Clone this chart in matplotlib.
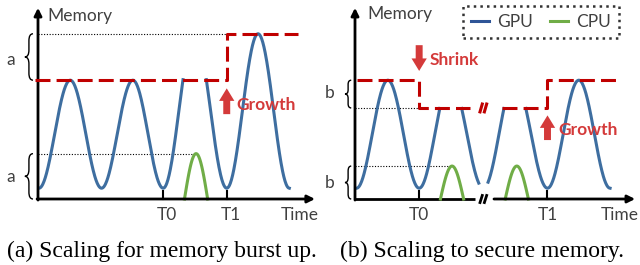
import numpy as np
import matplotlib
matplotlib.use("Agg")
import matplotlib.pyplot as plt
from matplotlib.path import Path
from matplotlib.patches import PathPatch
from matplotlib.lines import Line2D

# ---- data (time units: one half period = 1, memory units: peak ~1.1) ----
# (a) scaling for memory burst up
gpu_a_t = [0.03, 1.03, 2.03, 3.03, 4.0, 5.0, 6.03, 7.03, 8.03]
gpu_a_m = [0.1, 1.1, 0.1, 1.1, 0.1, 1.53, 0.1, 1.53, 0.1]
cpu_a_t = [5.05]
cpu_a_m = [0.42]
limit_a_t = [-0.1, 6.03, 8.3]      # limit changes at T1
limit_a_m = [1.1, 1.53]
ticks_a = [4.0, 6.03]
ticks_a_labels = ["T0", "T1"]

# (b) scaling to secure memory
gpu_b_t = [0.05, 1.05, 2.05, 3.05, 4.1, 5.1, 6.15, 7.15, 8.15]
gpu_b_m = [0.1, 1.1, 0.1, 1.1, 0.1, 1.1, 0.1, 1.1, 0.1]
cpu_b_t = [3.1, 5.17]
cpu_b_m = [0.305, 0.305]
limit_b_t = [0.05, 2.05, 6.15, 8.4]   # shrink at T0, growth at T1
limit_b_m = [1.1, 0.843, 1.1]
ticks_b = [2.05, 6.15]
ticks_b_labels = ["T0", "T1"]
break_b = 4.1

BLUE = "#3E6EA0"
GREEN = "#70AD47"
RED = "#C00000"
ARROW_RED = "#D43A3A"
GRAY = "#404040"
FONT = ["Lato", "DejaVu Sans"]
FS = 12.5

plt.rcParams["font.family"] = FONT


def wave(t_keys, m_keys, n=80):
    ts, ms = [], []
    for i in range(len(t_keys) - 1):
        s = np.linspace(0, 1, n)
        ts.append(t_keys[i] + s * (t_keys[i + 1] - t_keys[i]))
        ms.append(m_keys[i] + (m_keys[i + 1] - m_keys[i]) * (1 - np.cos(np.pi * s)) / 2)
    return np.concatenate(ts), np.concatenate(ms)


def limit_at(t, lt, lm):
    idx = np.clip(np.searchsorted(lt, t, side="right") - 1, 0, len(lm) - 1)
    return np.asarray(lm)[idx]


def step_xy(lt, lm):
    xs, ys = [lt[0]], [lm[0]]
    for i in range(1, len(lm)):
        xs += [lt[i], lt[i]]
        ys += [lm[i - 1], lm[i]]
    xs.append(lt[-1])
    ys.append(lm[-1])
    return np.array(xs), np.array(ys)


def brace(ax, x_tip, x_end, y0, y1):
    xm = (x_tip + x_end) / 2
    ym = (y0 + y1) / 2
    r = (y1 - y0) * 0.15
    verts = [(x_end, y1), (xm, y1), (xm, y1 - r), (xm, ym + r), (xm, ym), (x_tip, ym),
             (xm, ym), (xm, ym - r), (xm, y0 + r), (xm, y0), (x_end, y0)]
    codes = [Path.MOVETO, Path.CURVE3, Path.CURVE3, Path.LINETO, Path.CURVE3, Path.CURVE3,
             Path.CURVE3, Path.CURVE3, Path.LINETO, Path.CURVE3, Path.CURVE3]
    ax.add_patch(PathPatch(Path(verts, codes), fill=False, lw=1.0, color="black", clip_on=False))


def slashes(ax, x, y, color, lw=2.2, h=0.05):
    for dx in (-0.07, 0.07):
        ax.plot([x + dx - 0.05, x + dx + 0.05], [y - h, y + h], color=color, lw=lw,
                solid_capstyle="butt", clip_on=False, zorder=5)


def cpu_bump(ax, c, h, half=0.37):
    s = np.linspace(-1, 1, 60)
    ax.plot(c + s * half, h * np.cos(np.pi / 2 * s), color=GREEN, lw=2.2, zorder=3)


def up_arrow(ax, x, y0, y1):
    ax.annotate("", xy=(x, y1), xytext=(x, y0),
                arrowprops=dict(arrowstyle="simple,head_width=1.1,head_length=0.9,tail_width=0.5",
                                color=ARROW_RED, lw=0, mutation_scale=10))


fig = plt.figure(figsize=(6.4, 2.65), dpi=100)
# pixel scale: 31.3 px per time unit, 108 px per memory unit, origin at y=199 px
ax_a = fig.add_axes([0, 0, 0.5, 1])
ax_b = fig.add_axes([0.5, 0, 0.5, 1])
ax_a.set_xlim(-38 / 31.3, 282 / 31.3)
ax_b.set_xlim(-35 / 31.3, 285 / 31.3)
for ax in (ax_a, ax_b):
    ax.set_ylim(-66 / 108, 199 / 108)
    ax.axis("off")

arrow_kw = dict(arrowstyle="-|>", lw=2.0, color="black", mutation_scale=11, shrinkA=0, shrinkB=0)

# ---------------- panel (a) ----------------
ax = ax_a
t, m = wave(gpu_a_t, gpu_a_m)
m = np.where(m > limit_at(t, limit_a_t, limit_a_m) + 0.005, np.nan, m)
ax.plot(t, m, color=BLUE, lw=2.2, zorder=3)
for c, h in zip(cpu_a_t, cpu_a_m):
    cpu_bump(ax, c, h)
lx, ly = step_xy(limit_a_t, limit_a_m)
ax.plot(lx, ly, color=RED, lw=2.2, dashes=(4.9, 2.0), zorder=4)
ax.plot([0, limit_a_t[1]], [limit_a_m[1]] * 2, color="black", lw=0.8, ls=(0, (1, 1.5)))
ax.plot([0, cpu_a_t[0]], [cpu_a_m[0]] * 2, color="black", lw=0.8, ls=(0, (1, 1.5)))
ax.annotate("", xy=(8.85, 0), xytext=(-0.03, 0), arrowprops=arrow_kw)
ax.annotate("", xy=(0, 1.77), xytext=(0, -0.01), arrowprops=arrow_kw)
for tk, lab in zip(ticks_a, ticks_a_labels):
    ax.plot([tk, tk], [0, 0.07], color="black", lw=1.5)
    ax.text(tk + 0.12, -0.15, lab, ha="center", va="center", fontsize=FS, color=GRAY)
ax.text(8.97, -0.15, "Time", ha="right", va="center", fontsize=FS, color=GRAY)
ax.text(0.3, 1.69, "Memory", ha="left", va="center", fontsize=FS, color=GRAY)
brace(ax, -0.42, -0.16, limit_a_m[0], limit_a_m[1])
brace(ax, -0.42, -0.16, 0.0, cpu_a_m[0])
ax.text(-0.88, 1.29, "a", ha="center", va="center", fontsize=FS, color=GRAY)
ax.text(-0.88, 0.2, "a", ha="center", va="center", fontsize=FS, color=GRAY)
up_arrow(ax, limit_a_t[1], 0.76, 1.05)
ax.text(6.33, 0.87, "Growth", ha="left", va="center", fontsize=FS,
        fontweight="bold", color=ARROW_RED)

# ---------------- panel (b) ----------------
ax = ax_b
t, m = wave(gpu_b_t, gpu_b_m)
m = np.where(m > limit_at(t, limit_b_t, limit_b_m) + 0.005, np.nan, m)
m = np.where((t > break_b - 0.14) & (t < break_b + 0.15), np.nan, m)
ax.plot(t, m, color=BLUE, lw=2.2, zorder=3)
for c, h in zip(cpu_b_t, cpu_b_m):
    cpu_bump(ax, c, h)
lx, ly = step_xy(limit_b_t, limit_b_m)
left = lx <= break_b
ax.plot(np.append(lx[left], break_b - 0.42), np.append(ly[left], limit_b_m[1]),
        color=RED, lw=2.2, dashes=(4.9, 2.0), zorder=4)
ax.plot(np.insert(lx[~left], 0, break_b + 0.6), np.insert(ly[~left], 0, limit_b_m[1]),
        color=RED, lw=2.2, dashes=(4.9, 2.0), zorder=4)
slashes(ax, break_b, limit_b_m[1], RED)
ax.plot([0, limit_b_t[1]], [limit_b_m[1]] * 2, color="black", lw=0.8, ls=(0, (1, 1.5)))
ax.plot([0, cpu_b_t[0]], [cpu_b_m[0]] * 2, color="black", lw=0.8, ls=(0, (1, 1.5)))
ax.plot([-0.03, break_b - 0.27], [0, 0], color="black", lw=2.0, solid_capstyle="butt")
ax.annotate("", xy=(8.95, 0), xytext=(break_b + 0.34, 0), arrowprops=arrow_kw)
slashes(ax, break_b, 0, "black", lw=2.0, h=0.045)
ax.annotate("", xy=(0, 1.77), xytext=(0, -0.01), arrowprops=arrow_kw)
for tk, lab in zip(ticks_b, ticks_b_labels):
    ax.plot([tk, tk], [0, 0.07], color="black", lw=1.5)
    ax.text(tk, -0.15, lab, ha="center", va="center", fontsize=FS, color=GRAY)
ax.text(9.06, -0.15, "Time", ha="right", va="center", fontsize=FS, color=GRAY)
ax.text(0.38, 1.71, "Memory", ha="left", va="center", fontsize=FS, color=GRAY)
brace(ax, -0.32, -0.12, limit_b_m[1], limit_b_m[0])
brace(ax, -0.32, -0.12, 0.0, cpu_b_m[0])
ax.text(-0.8, 0.98, "b", ha="center", va="center", fontsize=FS, color=GRAY)
ax.text(-0.8, 0.15, "b", ha="center", va="center", fontsize=FS, color=GRAY)
up_arrow(ax, limit_b_t[1], 1.45, 1.16)
ax.text(2.4, 1.29, "Shrink", ha="left", va="center", fontsize=FS,
        fontweight="bold", color=ARROW_RED)
up_arrow(ax, limit_b_t[2], 0.52, 0.80)
ax.text(6.49, 0.64, "Growth", ha="left", va="center", fontsize=FS,
        fontweight="bold", color=ARROW_RED)

handles = [Line2D([], [], color="#2F5597", lw=2.2), Line2D([], [], color=GREEN, lw=2.2)]
leg = ax.legend(handles, ["GPU", "CPU"], ncol=2, loc="upper right",
                bbox_to_anchor=(619 / 640, 1 - 6 / 265), bbox_transform=fig.transFigure,
                borderaxespad=0, fancybox=False, frameon=True, fontsize=FS,
                handlelength=1.0, handletextpad=0.5, columnspacing=1.0,
                borderpad=0.45, labelcolor=GRAY)
leg.get_frame().set_edgecolor("black")
leg.get_frame().set_linestyle(":")
leg.get_frame().set_linewidth(1.8)

cap = dict(fontsize=17, family=["Liberation Serif", "DejaVu Serif"], va="baseline", color="black")
fig.text(7 / 640, 1 - 257 / 265, "(a) Scaling for memory burst up.", ha="left", **cap)
fig.text(340 / 640, 1 - 257 / 265, "(b) Scaling to secure memory.", ha="left", **cap)

fig.savefig("out.png", dpi=100)
